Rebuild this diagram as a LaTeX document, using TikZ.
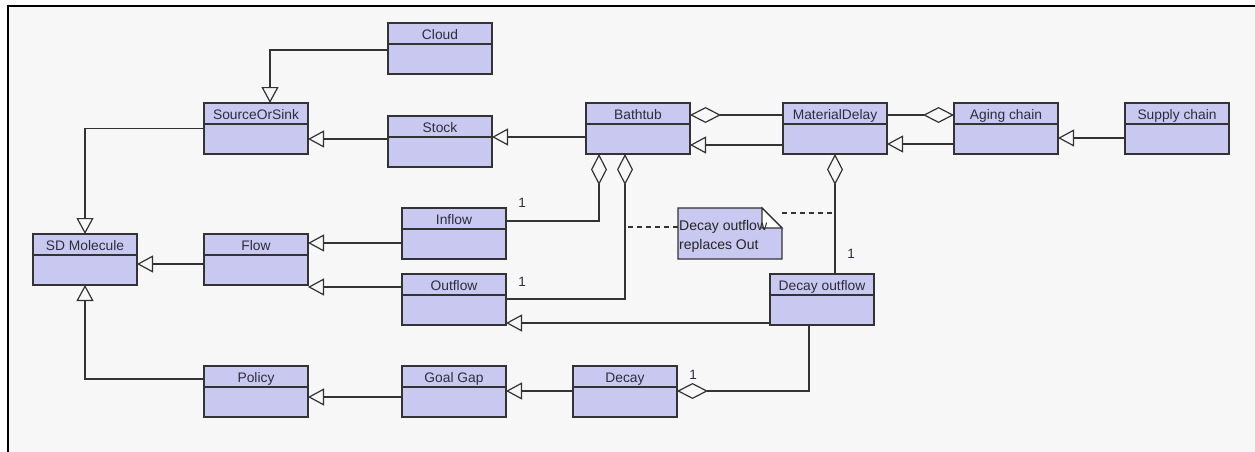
\documentclass[tikz,border=0pt]{standalone}
\usepackage{fontspec}
\setmainfont{Liberation Sans}
\usetikzlibrary{arrows.meta,calc}
\definecolor{bg}{RGB}{247,247,247}
\definecolor{boxfill}{RGB}{200,200,240}
\definecolor{ink}{RGB}{51,51,51}
\definecolor{txt}{RGB}{45,45,60}
\tikzset{
  cbox/.style={draw=ink, fill=boxfill, line width=1.3pt, minimum width=104pt, minimum height=51pt, inner sep=0pt, outer sep=0pt, anchor=north west},
  ctitle/.style={text=txt, font=\fontsize{13.8}{16}\selectfont, inner sep=0pt, anchor=base},
  divider/.style={draw=ink, line width=1.2pt},
  conn/.style={draw=ink, line width=1.2pt},
  gen/.style={conn, -{Triangle[open, length=16pt, width=17pt]}},
  agg/.style={conn, -{Diamond[open, length=31pt, width=16pt]}},
  mult/.style={text=txt, font=\fontsize{13.5}{16}\selectfont, inner sep=0pt, anchor=base},
  notedash/.style={draw=ink, line width=1.1pt, dash pattern=on 5pt off 4pt},
  notebox/.style={draw=none, minimum width=104pt, minimum height=51pt, inner sep=0pt, outer sep=0pt, anchor=north west},
  notetext/.style={text=black!85, font=\fontsize{14}{19}\selectfont, inner sep=0pt, align=left, anchor=west}
}
\newcommand\umlclass[4]{%
  \node[cbox] (#1) at (#2,#3) {};
  \node[ctitle] (#1-t) at ([yshift=-16.5pt]#1.north) {#4};
  \draw[divider] ([yshift=-21pt]#1.north west) -- ([yshift=-21pt]#1.north east);
}
\begin{document}
\begin{tikzpicture}[x=1pt,y=-1pt]
\useasboundingbox (0,0) rectangle (1255,452);
\fill[white] (0,0) rectangle (1255,452);
\fill[bg] (8,6) rectangle (1255,452);
\draw[black, line width=2pt] (8,452) -- (8,6) -- (1255,6);

\umlclass{cloud}{388}{23}{Cloud}
\umlclass{sos}{204}{103}{SourceOrSink}
\umlclass{stock}{388}{116}{Stock}
\umlclass{bath}{586}{103}{Bathtub}
\umlclass{md}{783}{103}{MaterialDelay}
\umlclass{aging}{954}{103}{Aging chain}
\umlclass{supply}{1125}{103}{Supply chain}
\umlclass{sdm}{33}{234}{SD Molecule}
\umlclass{flow}{204}{234}{Flow}
\umlclass{inflow}{402}{208}{Inflow}
\umlclass{outflow}{402}{274}{Outflow}
\umlclass{dout}{770}{274}{Decay outflow}
\umlclass{policy}{204}{366}{Policy}
\umlclass{goal}{402}{366}{Goal Gap}
\umlclass{decay}{573}{366}{Decay}

% note
\node[notebox] (note) at (678,208) {};
\filldraw[fill=boxfill, draw=ink, line width=1.3pt] (note.north west) -- ([xshift=-20pt]note.north east) -- ([yshift=-20pt]note.north east) -- (note.south east) -- (note.south west) -- cycle;
\filldraw[fill=white, draw=ink, line width=1.1pt] ([xshift=-20pt]note.north east) -- ([xshift=-20pt,yshift=-20pt]note.north east) -- ([yshift=-20pt]note.north east) -- cycle;
\node[notetext] (note-t) at (679,236) {Decay outflow\\replaces Out};
\coordinate (n1) at (628,227);
\coordinate (n2) at (832,213);
\draw[notedash] (note.west |- 0,227) -- (n1);
\draw[notedash] (note.east |- 0,213) -- (n2);

% connectors
\draw[gen] ([yshift=-1.5pt]cloud.west) -| ([xshift=14pt]sos.north);
\draw[gen] (sos.west) -| (sdm.north);
\draw[gen] (stock.west |- 0,139) -- (sos.east |- 0,139);
\draw[gen] (bath.west |- 0,137) -- (stock.east |- 0,137);
\draw[agg] (md.west |- 0,115) -- (bath.east |- 0,115);
\draw[gen] (md.west |- 0,145) -- (bath.east |- 0,145);
\draw[agg] (md.east |- 0,115) -- (aging.west |- 0,115);
\draw[gen] (aging.west |- 0,144) -- (md.east |- 0,144);
\draw[gen] (supply.west |- 0,138) -- (aging.east |- 0,138);
\draw[agg] (inflow.east |- 0,221) -| (bath.south -| 599,0);
\draw[agg] (outflow.east |- 0,299) -| (bath.south -| 625,0);
\draw[agg] (dout.north -| md.south) -- (md.south);
\draw[gen] (dout.west |- 0,323) -- (outflow.east |- 0,323);
\draw[gen] (flow.west |- 0,264) -- (sdm.east |- 0,264);
\draw[gen] (inflow.west |- 0,243) -- (flow.east |- 0,243);
\draw[gen] (outflow.west |- 0,287) -- (flow.east |- 0,287);
\draw[gen] (policy.west |- 0,379) -| (sdm.south);
\draw[gen] (goal.west |- 0,397) -- (policy.east |- 0,397);
\draw[gen] (decay.west |- 0,391) -- (goal.east |- 0,391);
\draw[agg] (dout.south -| 809,0) |- (decay.east |- 0,391);

% multiplicities
\node[mult] (m1) at (522,207) {1};
\node[mult] (m2) at (522,286) {1};
\node[mult] (m3) at (851,258) {1};
\node[mult] (m4) at (693,379) {1};
\end{tikzpicture}
\end{document}
